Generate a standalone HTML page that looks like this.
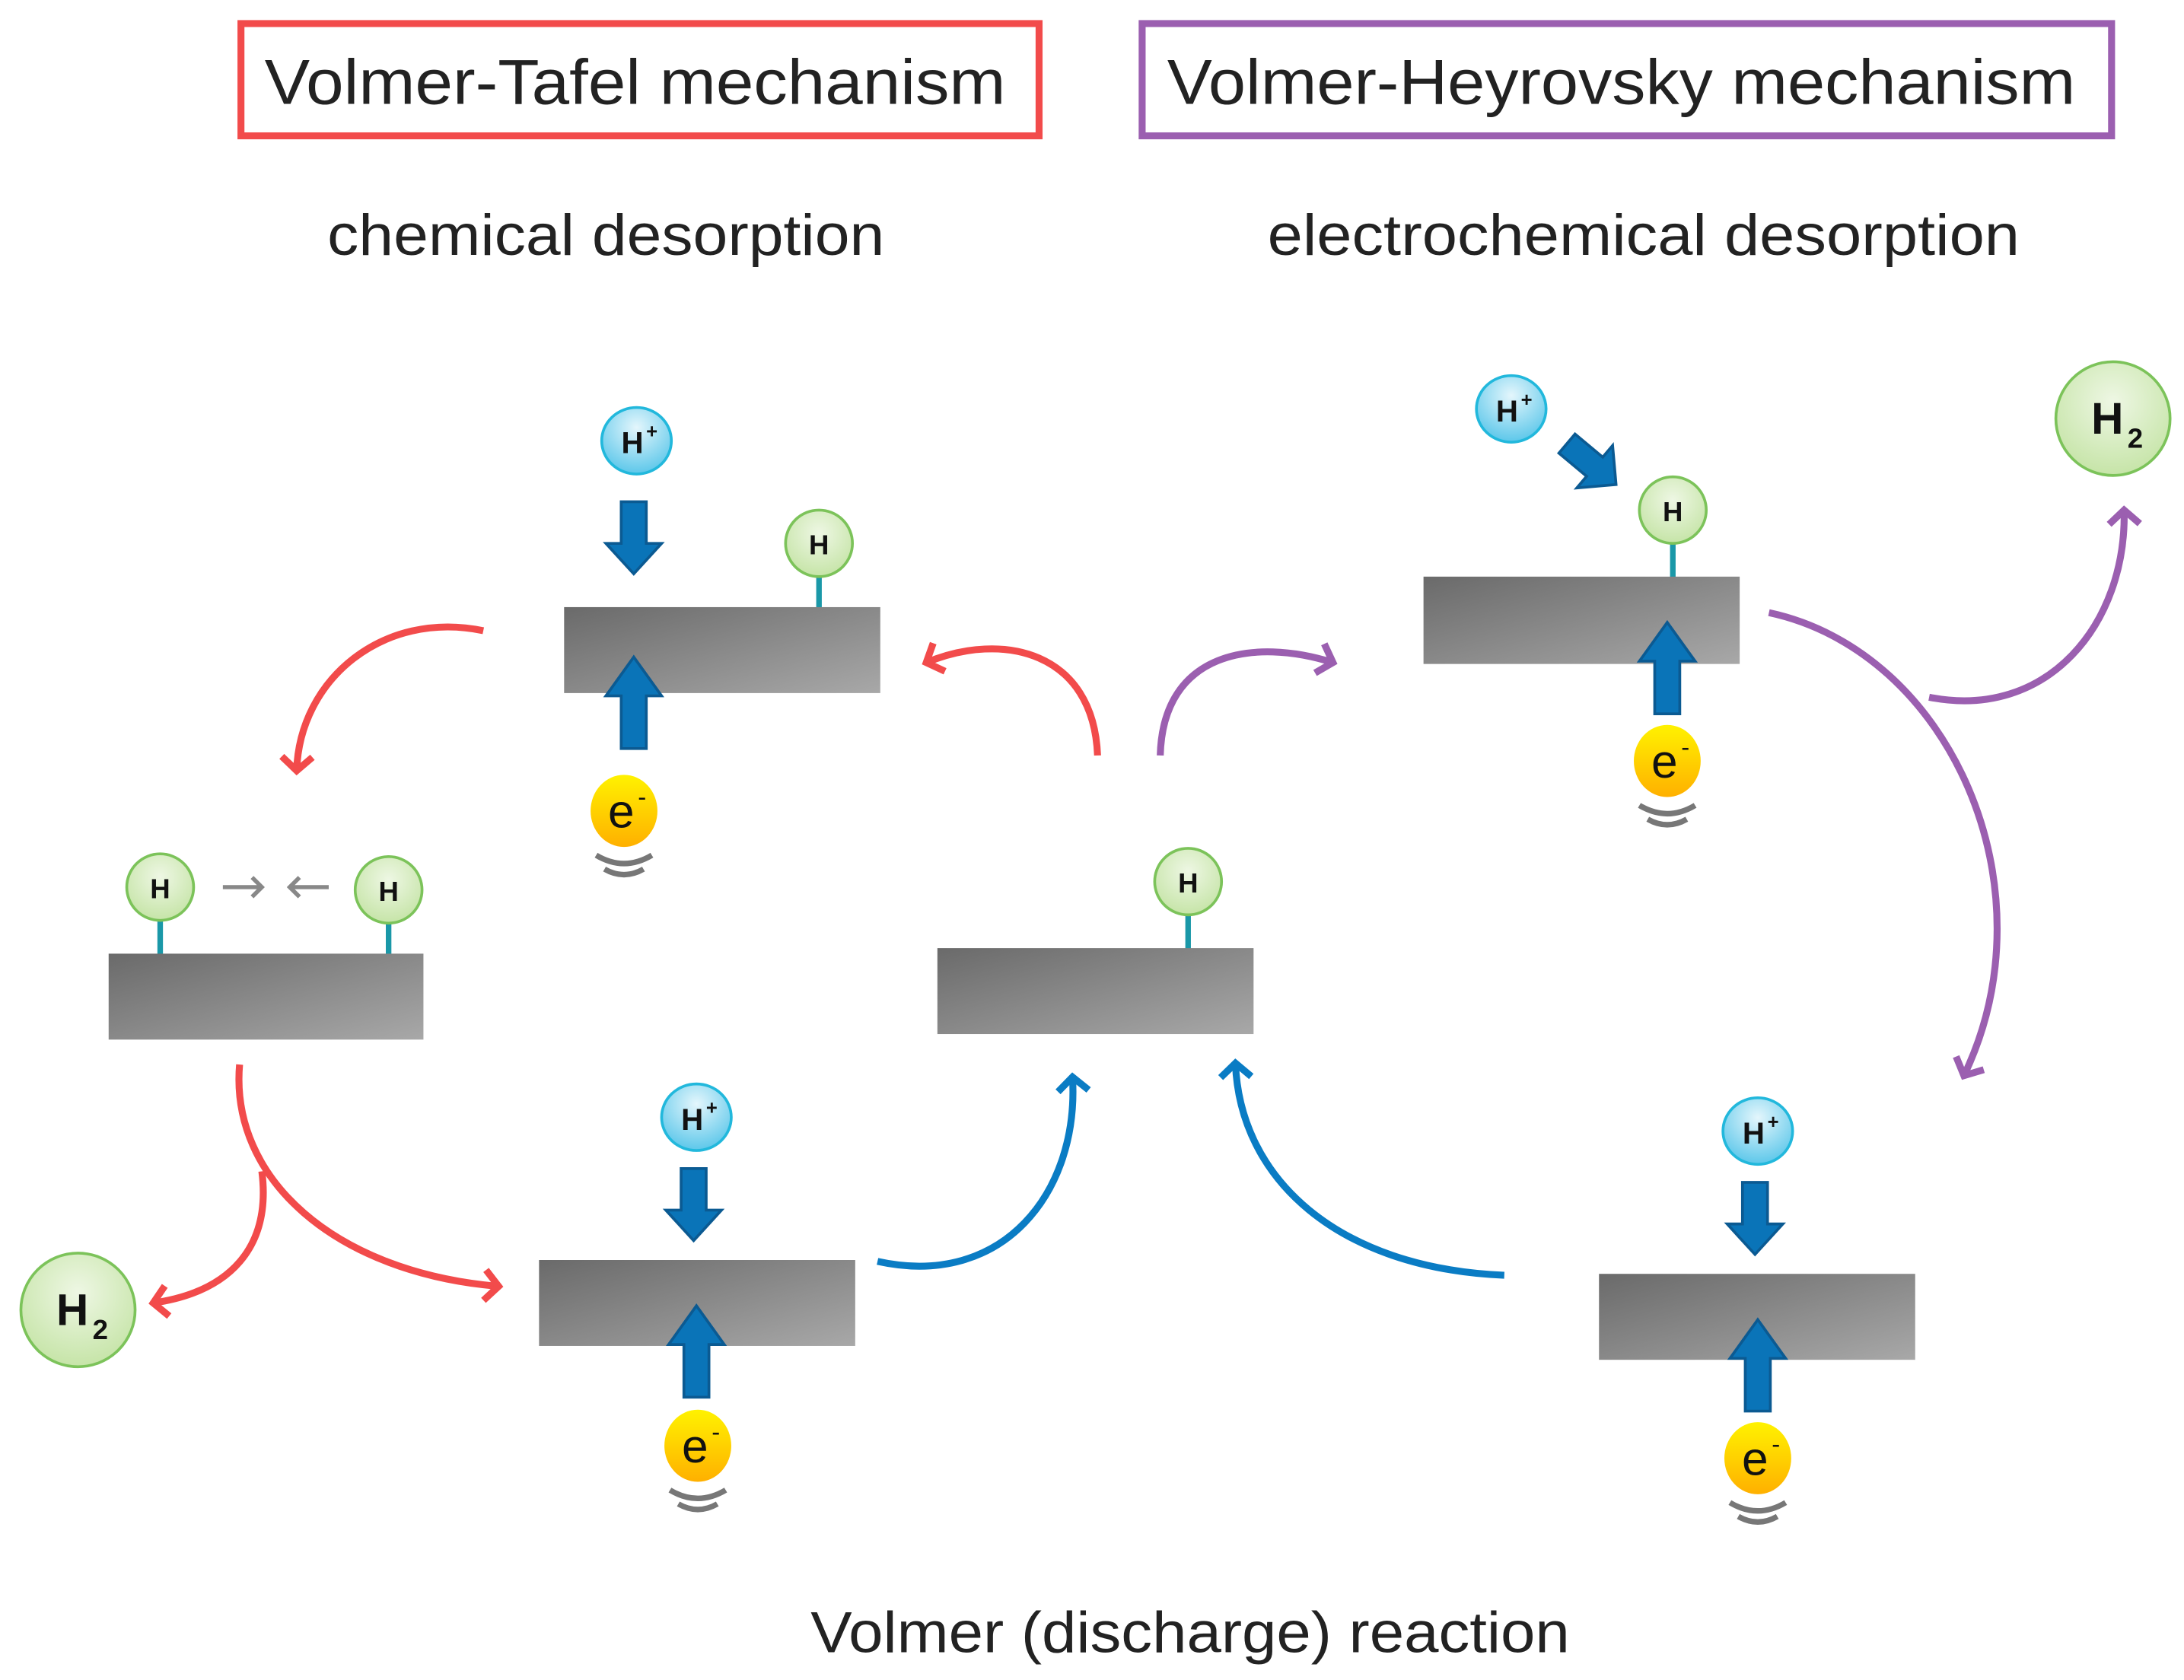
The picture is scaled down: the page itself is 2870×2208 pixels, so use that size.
<!DOCTYPE html>
<html><head><meta charset="utf-8"><style>
html,body{margin:0;padding:0;background:#fff;}
svg{display:block;}
text{font-family:"Liberation Sans",sans-serif;}
</style></head><body>
<svg width="2870" height="2208" viewBox="0 0 1568 1212" preserveAspectRatio="none" xmlns="http://www.w3.org/2000/svg">
<defs>
<linearGradient id="bar" x1="0" y1="0" x2="1" y2="1"><stop offset="0" stop-color="#6a6a6a"/><stop offset="1" stop-color="#a8a8a8"/></linearGradient>
<radialGradient id="gH" cx="0.5" cy="0.35" r="0.7"><stop offset="0" stop-color="#eef7e4"/><stop offset="1" stop-color="#c3e3a3"/></radialGradient>
<radialGradient id="gP" cx="0.5" cy="0.3" r="0.7"><stop offset="0" stop-color="#e4f6fc"/><stop offset="1" stop-color="#5cc7ea"/></radialGradient>
<linearGradient id="gE" x1="0" y1="0" x2="0" y2="1"><stop offset="0" stop-color="#fff200"/><stop offset="1" stop-color="#ffb000"/></linearGradient>
<marker id="ar" markerWidth="30" markerHeight="30" refX="14" refY="14" orient="auto" markerUnits="userSpaceOnUse"><path d="M4,3 L14,14 L4,25" fill="none" stroke="#f24b4b" stroke-width="5"/></marker>
<marker id="ap" markerWidth="30" markerHeight="30" refX="14" refY="14" orient="auto" markerUnits="userSpaceOnUse"><path d="M4,3 L14,14 L4,25" fill="none" stroke="#9b5fb0" stroke-width="5"/></marker>
<marker id="ab" markerWidth="30" markerHeight="30" refX="14" refY="14" orient="auto" markerUnits="userSpaceOnUse"><path d="M4,3 L14,14 L4,25" fill="none" stroke="#0a7cc4" stroke-width="5"/></marker>
<marker id="ag" markerWidth="20" markerHeight="20" refX="10" refY="10" orient="auto" markerUnits="userSpaceOnUse"><path d="M3,3 L10,10 L3,17" fill="none" stroke="#888" stroke-width="3"/></marker>
<g id="down"><path d="M-9,0 H9 V30 H20 L0,52 L-20,30 H-9 Z" fill="#0a74b8" stroke="#0b5a92" stroke-width="2"/></g>
<g id="up"><path d="M-9,0 H9 V-38 H20 L0,-66 L-20,-38 H-9 Z" fill="#0a74b8" stroke="#0b5a92" stroke-width="2"/></g>
<g id="e"><ellipse cx="0" cy="0" rx="24" ry="26" fill="url(#gE)"/><text x="-2" y="12" font-size="34" text-anchor="middle" fill="#111">e</text><text x="13" y="-4" font-size="18" text-anchor="middle" fill="#111">-</text>
<path d="M-20,32 Q0,44 20,32" fill="none" stroke="#777" stroke-width="4"/><path d="M-14,42 Q0,50 14,42" fill="none" stroke="#777" stroke-width="4"/></g>
<g id="hp"><ellipse cx="0" cy="0" rx="25" ry="24" fill="url(#gP)" stroke="#22b8dc" stroke-width="2"/><text x="-3" y="9" font-size="22" font-weight="bold" text-anchor="middle" fill="#111">H</text><text x="11" y="-2" font-size="14" font-weight="bold" text-anchor="middle" fill="#111">+</text></g>
<g id="h"><ellipse cx="0" cy="0" rx="24" ry="24" fill="url(#gH)" stroke="#7cc35a" stroke-width="2"/><text x="0" y="8" font-size="20" font-weight="bold" text-anchor="middle" fill="#111">H</text></g>
</defs>

<rect x="173" y="17" width="573" height="81" fill="none" stroke="#f24b4b" stroke-width="5"/>
<text x="190" y="75" font-size="46" textLength="532" lengthAdjust="spacingAndGlyphs" fill="#222">Volmer-Tafel mechanism</text>
<rect x="820" y="17" width="696" height="81" fill="none" stroke="#9b5fb0" stroke-width="5"/>
<text x="838" y="75" font-size="46" textLength="652" lengthAdjust="spacingAndGlyphs" fill="#222">Volmer-Heyrovsky mechanism</text>
<text x="235" y="184" font-size="42" textLength="400" lengthAdjust="spacingAndGlyphs" fill="#222">chemical desorption</text>
<text x="910" y="184" font-size="42" textLength="540" lengthAdjust="spacingAndGlyphs" fill="#222">electrochemical desorption</text>
<text x="582" y="1192" font-size="42" textLength="545" lengthAdjust="spacingAndGlyphs" fill="#222">Volmer (discharge) reaction</text>

<g fill="none" stroke-width="5">
<path d="M347,455 C275,440 215,490 213,556" stroke="#f24b4b" marker-end="url(#ar)"/>
<path d="M788,545 C785,470 720,455 665,478" stroke="#f24b4b" marker-end="url(#ar)"/>
<path d="M172,768 C165,850 240,918 358,928" stroke="#f24b4b" marker-end="url(#ar)"/>
<path d="M188,845 C195,900 165,932 110,940" stroke="#f24b4b" marker-end="url(#ar)"/>
<path d="M833,545 C835,470 900,460 957,478" stroke="#9b5fb0" marker-end="url(#ap)"/>
<path d="M1270,442 C1400,470 1475,640 1410,776" stroke="#9b5fb0" marker-end="url(#ap)"/>
<path d="M1385,503 C1470,520 1527,450 1525,368" stroke="#9b5fb0" marker-end="url(#ap)"/>
<path d="M630,910 C720,930 775,860 770,777" stroke="#0a7cc4" marker-end="url(#ab)"/>
<path d="M1080,920 C960,915 890,850 887,767" stroke="#0a7cc4" marker-end="url(#ab)"/>
<path d="M160,640 H188" stroke="#888" stroke-width="3" marker-end="url(#ag)"/>
<path d="M236,640 H208" stroke="#888" stroke-width="3" marker-end="url(#ag)"/>
</g>

<g stroke="#1a98a8" stroke-width="4">
<line x1="588" y1="414" x2="588" y2="440"/>
<line x1="115" y1="662" x2="115" y2="690"/>
<line x1="279" y1="664" x2="279" y2="690"/>
<line x1="853" y1="658" x2="853" y2="686"/>
<line x1="1201" y1="390" x2="1201" y2="418"/>
</g>

<rect x="405" y="438" width="227" height="62" fill="url(#bar)"/>
<rect x="78" y="688" width="226" height="62" fill="url(#bar)"/>
<rect x="673" y="684" width="227" height="62" fill="url(#bar)"/>
<rect x="1022" y="416" width="227" height="63" fill="url(#bar)"/>
<rect x="387" y="909" width="227" height="62" fill="url(#bar)"/>
<rect x="1148" y="919" width="227" height="62" fill="url(#bar)"/>

<use href="#down" x="455" y="362"/>
<use href="#up" x="455" y="540"/>
<use href="#down" x="498" y="843"/>
<use href="#up" x="500" y="1008"/>
<use href="#down" x="1260" y="853"/>
<use href="#up" x="1262" y="1018"/>
<use href="#up" x="1197" y="515"/>
<g transform="translate(1125,320) rotate(-50)"><path d="M-9,0 H9 V26 H20 L0,46 L-20,26 H-9 Z" fill="#0a74b8" stroke="#0b5a92" stroke-width="2"/></g>

<use href="#hp" x="457" y="318"/>
<use href="#hp" x="500" y="806"/>
<use href="#hp" x="1085" y="295"/>
<use href="#hp" x="1262" y="816"/>
<use href="#h" x="588" y="392"/>
<use href="#h" x="115" y="640"/>
<use href="#h" x="279" y="642"/>
<use href="#h" x="853" y="636"/>
<use href="#h" x="1201" y="368"/>
<use href="#e" x="448" y="585"/>
<use href="#e" x="501" y="1043"/>
<use href="#e" x="1197" y="549"/>
<use href="#e" x="1262" y="1052"/>

<g>
<ellipse cx="56" cy="945" rx="41" ry="41" fill="url(#gH)" stroke="#7cc35a" stroke-width="2"/>
<text x="52" y="956" font-size="32" font-weight="bold" text-anchor="middle" fill="#111">H</text><text x="72" y="966" font-size="20" font-weight="bold" text-anchor="middle" fill="#111">2</text>
<ellipse cx="1517" cy="302" rx="41" ry="41" fill="url(#gH)" stroke="#7cc35a" stroke-width="2"/>
<text x="1513" y="313" font-size="32" font-weight="bold" text-anchor="middle" fill="#111">H</text><text x="1533" y="323" font-size="20" font-weight="bold" text-anchor="middle" fill="#111">2</text>
</g>
</svg>
</body></html>
